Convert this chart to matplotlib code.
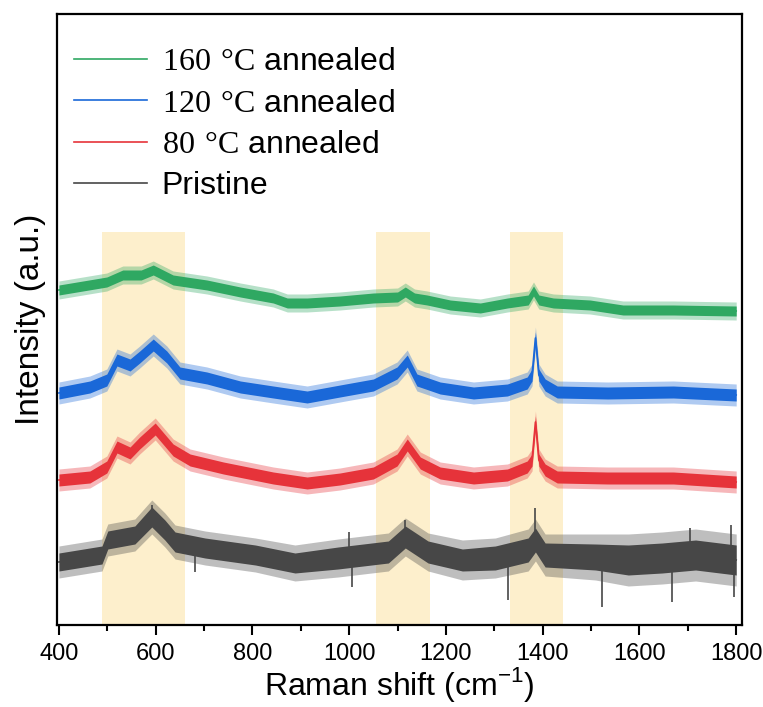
import matplotlib
matplotlib.use("Agg")
import matplotlib.pyplot as plt
import numpy as np

plt.rcParams['font.family'] = ['Liberation Sans', 'DejaVu Sans']
plt.rcParams['mathtext.fontset'] = 'custom'
plt.rcParams['mathtext.rm'] = 'Liberation Serif'
plt.rcParams['mathtext.sf'] = 'Liberation Sans'

# ---- data (offset intensities, arbitrary units) ----
green_x = [400, 499, 532, 570, 595, 636, 706, 775, 843, 872, 913, 981, 1050, 1100, 1116,
           1135, 1161, 1209, 1271, 1327, 1370, 1381, 1392, 1422, 1498, 1566, 1670, 1800]
green_y = [335, 343, 350, 350, 355, 345, 340, 333, 327, 322, 322, 324, 327, 328, 333,
           327, 325, 320, 317, 322, 325, 334, 325, 322, 320, 315, 315, 314]
green_core, green_outer = 5, 9

blue_x = [400, 464, 499, 520, 547, 567, 595, 623, 650, 706, 775, 843, 913, 981, 1050,
          1099, 1120, 1140, 1188, 1257, 1327, 1368, 1378, 1385, 1392, 1405, 1430, 1534, 1670, 1800]
blue_y = [232, 238, 245, 265, 260, 268, 280, 268, 252, 247, 238, 233, 228, 234, 240,
          252, 264, 245, 237, 232, 235, 242, 250, 287, 250, 240, 233, 232, 233, 230]
blue_core, blue_outer = 6, 11

red_x = [400, 464, 499, 520, 547, 567, 599, 636, 671, 740, 843, 913, 981, 1050, 1099,
         1120, 1147, 1188, 1257, 1327, 1368, 1378, 1385, 1392, 1405, 1430, 1534, 1670, 1800]
red_y = [145, 148, 158, 178, 172, 182, 196, 175, 165, 157, 147, 142, 146, 152, 165,
         180, 162, 152, 147, 150, 158, 165, 203, 165, 155, 148, 147, 147, 143]
red_core, red_outer = 6, 11

black_x = [400, 489, 501, 557, 592, 619, 640, 702, 806, 888, 977, 1081, 1116, 1163,
           1234, 1302, 1370, 1385, 1405, 1509, 1577, 1647, 1716, 1800]
black_y = [63, 70, 85, 90, 108, 95, 83, 77, 70, 62, 67, 73, 88, 73,
           65, 67, 75, 85, 70, 68, 65, 67, 70, 65]
black_core = [9, 9, 9, 9, 10, 10, 10, 10, 10, 10, 11, 11, 11, 11,
              11, 12, 12, 12, 12, 13, 15, 15, 15, 15]
black_outer = [16, 16, 16, 16, 17, 17, 17, 17, 17, 18, 19, 19, 19, 19,
               20, 20, 21, 21, 21, 23, 26, 26, 26, 26]
# isolated spikes (position, tip value)
black_spike_x = [592, 681, 1000, 1006, 1116, 1328, 1385, 1523, 1668, 1705, 1790, 1795]
black_spike_y = [120, 53, 93, 38, 105, 25, 117, 18, 23, 97, 100, 28]

bands = [(490, 660), (1055, 1167), (1333, 1442)]
band_top = 393

labels = [r'$\mathrm{160\ °C}$ annealed', r'$\mathrm{120\ °C}$ annealed',
          r'$\mathrm{80\ °C}$ annealed', 'Pristine']
colors = ['#2fa862', '#1a68d8', '#e6333a', '#474747']

fig = plt.figure(figsize=(7.63, 7.07), dpi=100)
ax = fig.add_axes([57/763, (707-625)/707, 685/763, 611/707])

for lo, hi in bands:
    ax.fill_between([lo, hi], 0, band_top, color='#fdefcc', lw=0, zorder=0)

series = [(green_x, green_y, green_core, green_outer),
          (blue_x, blue_y, blue_core, blue_outer),
          (red_x, red_y, red_core, red_outer),
          (black_x, black_y, black_core, black_outer)]
handles = []
for (xs, ys, core, outer), c, lab in zip(series, colors, labels):
    xs = np.array(xs, float)
    ys = np.array(ys, float)
    core = np.broadcast_to(np.array(core, float), ys.shape)
    outer = np.broadcast_to(np.array(outer, float), ys.shape)
    ax.fill_between(xs, ys - outer, ys + outer, color=c, lw=0, alpha=0.35, zorder=2)
    ax.fill_between(xs, ys - core, ys + core, color=c, lw=0, zorder=3)
    h, = ax.plot(xs, ys, color=c, lw=1.2, label=lab, zorder=4)
    handles.append(h)

# black spikes from the curve to their tips
base = np.interp(black_spike_x, black_x, black_y)
ax.vlines(black_spike_x, base, black_spike_y, color=colors[3], lw=1.2, zorder=3)

ax.set_xlim(396, 1812)
ax.set_ylim(0, 611)
ax.set_yticks([])
ax.set_xticks(np.arange(400, 1801, 200))
ax.set_xticks(np.arange(500, 1801, 200), minor=True)
ax.tick_params(axis='x', which='major', direction='out', length=7, width=1.5,
               labelsize=17, pad=6)
ax.tick_params(axis='x', which='minor', direction='out', length=4, width=1.5)
for s in ax.spines.values():
    s.set_linewidth(1.6)

ax.set_xlabel('Raman shift (cm$^{\\mathsf{-1}}$)', fontsize=23, labelpad=0)
ax.set_ylabel('Intensity (a.u.)', fontsize=24, labelpad=8)

ax.legend(handles=handles, loc='upper left', bbox_to_anchor=(17/685, 1 - 33/611),
          frameon=False, fontsize=23, handlelength=2.3, handletextpad=0.45,
          labelspacing=0.36, borderpad=0, borderaxespad=0)

fig.savefig('out.png', dpi=100)
